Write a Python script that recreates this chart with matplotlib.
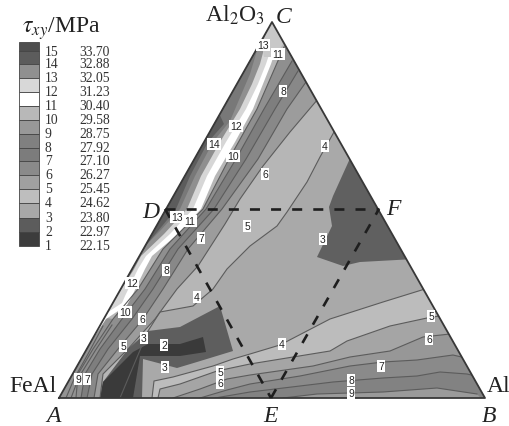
import matplotlib.pyplot as plt
from matplotlib.patches import Polygon

plt.rcParams['font.family'] = ['Liberation Serif', 'DejaVu Serif']
plt.rcParams['mathtext.fontset'] = 'stix'

# triangle corners, read in picture pixels
apex_a = (59, 399)
apex_b = (485, 399)
apex_c = (272, 23)
point_d = (165, 210)
point_e = (271, 399)
point_f = (379, 210)

# legend
level_numbers = ['15', '14', '13', '12', '11', '10', '9', '8', '7', '6', '5', '4', '3', '2', '1']
level_values = ['33.70', '32.88', '32.05', '31.23', '30.40', '29.58', '28.75', '27.92',
                '27.10', '26.27', '25.45', '24.62', '23.80', '22.97', '22.15']
level_tops = [43, 52, 65, 79, 93, 107, 121, 135, 149, 162, 176, 190, 204, 219, 233]
level_bottoms = [52, 65, 79, 93, 107, 121, 135, 149, 162, 176, 190, 204, 219, 233, 247]
level_greys = ['#4e4e4e', '#5c5c5c', '#909090', '#d8d8d8', '#ffffff', '#b8b8b8', '#989898', '#808080',
               '#7c7c7c', '#8a8a8a', '#a0a0a0', '#bebebe', '#a8a8a8', '#5c5c5c', '#3c3c3c']

# contours coming in from the AB side, left to right
bottom_l1 = [(152, 399), (154, 382), (173, 378), (213, 367), (233, 360), (250, 355), (280, 346), (330, 320), (383, 303), (425, 290)]
bottom_l2 = [(158, 399), (160, 390), (180, 385), (217, 372), (250, 365), (330, 352), (347, 342), (390, 327), (427, 319), (445, 316)]
bottom_l3 = [(173, 399), (200, 390), (227, 380), (250, 376), (313, 367), (350, 358), (390, 352), (423, 338), (450, 335)]
bottom_l4 = [(200, 399), (227, 391), (250, 385), (300, 377), (350, 367), (383, 363), (417, 361), (453, 356), (470, 360)]
bottom_l5 = [(215, 399), (250, 393), (300, 387), (333, 383), (383, 379), (417, 377), (440, 373), (467, 375), (480, 378)]
bottom_l6 = [(283, 399), (317, 395), (383, 393), (437, 389), (477, 395)]
bottom_lines = [bottom_l1, bottom_l2, bottom_l3, bottom_l4, bottom_l5, bottom_l6]
bottom_greys = ['#bcbcbc', '#a5a5a5', '#979797', '#8a8a8a', '#828282', '#9a9a9a']

# contours running up towards C, from the middle to the AC side
side_f0 = [(334, 133), (320, 158), (307, 183), (287, 213), (277, 227), (250, 247), (227, 270), (213, 290), (193, 307), (160, 313), (148, 332), (120, 399)]
side_f1 = [(318, 100), (290, 133), (263, 167), (240, 200), (225, 225), (198, 267), (177, 290), (155, 320), (128, 350), (103, 375), (100, 399)]
side_f2 = [(306, 83), (287, 110), (258, 160), (222, 210), (188, 250), (163, 290), (143, 320), (118, 350), (98, 375), (94, 399)]
side_f3 = [(298, 72), (275, 110), (246, 160), (214, 210), (178, 250), (153, 290), (132, 320), (108, 350), (92, 375), (87, 399)]
side_f4 = [(292, 62), (264, 110), (236, 160), (206, 210), (170, 250), (145, 290), (122, 320), (100, 350), (85, 375), (81, 399)]
side_f5 = [(284, 48), (257, 110), (229, 160), (203, 210), (163, 250), (138, 290), (113, 320), (93, 350), (78, 375), (76, 399)]
side_lines = [side_f0, side_f1, side_f2, side_f3, side_f4, side_f5]
side_greys = ['#b6b6b6', '#9c9c9c', '#888888', '#7e7e7e', '#8f8f8f', '#b6b6b6']

# short contours in the corner at A
corner_t1 = [(71, 399), (79, 378), (95, 352), (112, 326)]
corner_t2 = [(66, 399), (74, 380), (88, 355), (103, 327)]
corner_wedge = [(76, 399), (78, 375), (93, 350), (113, 320), (100, 318), (50, 399)]

# white band and the bands between it and the AC edge
white_right = [(276, 50), (271, 65), (263, 85), (253, 110), (235, 143), (215, 177), (201, 210), (178, 235), (152, 257), (145, 270), (132, 297), (127, 306), (106, 320)]
white_left = [(271, 50), (266, 65), (258, 85), (246, 110), (226, 143), (207, 177), (193, 210), (170, 235), (146, 257), (138, 270), (125, 297), (122, 304), (102, 317)]
light_line = [(268, 35), (260, 65), (252, 85), (240, 110), (220, 143), (201, 177), (187, 210), (164, 235), (141, 257), (133, 272), (119, 293)]
mid_line = [(259, 45), (250, 75), (230, 122), (213, 143), (195, 177), (180, 210), (160, 232), (147, 245)]
dark_line = [(218, 112), (224, 125), (208, 143), (190, 177), (176, 210), (158, 232), (147, 245)]
apex_cap = [(264, 58), (275, 58), (283, 45), (272, 18), (262, 45)]

# closed fields
field_f = [(352, 155), (333, 197), (329, 208), (332, 227), (317, 258), (343, 267), (360, 263), (415, 260)]
field_3 = [(100, 399), (103, 383), (128, 350), (148, 332), (180, 328), (220, 307), (233, 352), (197, 363), (177, 369), (143, 360), (142, 399)]
field_2 = [(100, 399), (103, 383), (133, 353), (148, 345), (180, 345), (203, 338), (206, 353), (180, 357), (140, 357), (133, 399)]

# number tags on the contours
tag_texts = ['13', '11', '8', '4', '12', '14', '10', '6', '5', '13', '11', '7', '3', '8', '12', '4',
             '10', '6', '5', '3', '2', '3', '4', '5', '6', '5', '6', '7', '8', '9', '9', '7']
tag_x = [263, 278, 283, 325, 236, 214, 233, 265, 247, 177, 190, 201, 323, 166, 132, 197,
         125, 142, 123, 144, 164, 165, 282, 220, 220, 431, 429, 381, 351, 351, 78, 87]
tag_y = [46, 55, 92, 147, 127, 145, 157, 175, 227, 218, 222, 239, 240, 271, 284, 298,
         313, 320, 347, 339, 346, 368, 345, 373, 384, 317, 340, 367, 381, 394, 380, 380]


def close_left(line):
    return list(line) + [(40, 420), (40, 0), (line[0][0] + 1, 0)]


def close_below(line):
    return list(line) + [(500, 420), (line[0][0], 420)]


fig = plt.figure(figsize=(5.1, 4.27), dpi=100)
ax = fig.add_axes([0, 0, 1, 1])
ax.set_xlim(0, 510)
ax.set_ylim(427, 0)
ax.axis('off')

triangle = Polygon([apex_a, apex_b, apex_c], closed=True, facecolor='#a9a9a9', edgecolor='none')
ax.add_patch(triangle)


def fill_clipped(points, color, z=1):
    patch = Polygon(points, closed=True, facecolor=color, edgecolor='none', zorder=z)
    ax.add_patch(patch)
    patch.set_clip_path(triangle)


def draw_line(points, z=3):
    xs = [p[0] for p in points]
    ys = [p[1] for p in points]
    line, = ax.plot(xs, ys, color='#5c5c5c', lw=0.8, zorder=z)
    line.set_clip_path(triangle)


for line, grey in zip(bottom_lines, bottom_greys):
    fill_clipped(close_below(line), grey)
for line, grey in zip(side_lines, side_greys):
    fill_clipped(close_left(line), grey)
fill_clipped(corner_wedge, '#939393')
fill_clipped(close_left(white_right), '#ffffff')
fill_clipped(close_left(white_left), '#d6d6d6')
fill_clipped(close_left(light_line), '#8f8f8f')
fill_clipped(close_left(mid_line), '#787878')
fill_clipped(close_left(dark_line), '#5c5c5c')
fill_clipped(apex_cap, '#c8c8c8')
fill_clipped(field_f, '#606060', 2)
fill_clipped(field_3, '#5e5e5e', 2)
fill_clipped(field_2, '#3a3a3a', 2)

for line in bottom_lines + side_lines + [corner_t1, corner_t2]:
    draw_line(line)

# triangle outline
edge_x = [apex_a[0], apex_b[0], apex_c[0], apex_a[0]]
edge_y = [apex_a[1], apex_b[1], apex_c[1], apex_a[1]]
ax.plot(edge_x, edge_y, color='#383838', lw=1.3, zorder=5)

# dashed inner triangle
for p, q in [(point_d, point_f), (point_d, point_e), (point_e, point_f)]:
    ax.plot([p[0], q[0]], [p[1], q[1]], color='#1e1e1e', lw=1.9, ls=(0, (3.8, 4.2)), zorder=6)

# contour tags
for text, x, y in zip(tag_texts, tag_x, tag_y):
    ax.text(x, y, text, fontsize=7.5, family='Liberation Sans', ha='center', va='center', color='#222222', zorder=7,
            bbox=dict(facecolor='white', edgecolor='none', pad=0.9))

# legend column
for top, bottom, grey in zip(level_tops, level_bottoms, level_greys):
    ax.bar(29, bottom - top, width=20, bottom=top, color=grey, edgecolor='#444444', linewidth=0.6)
for i, (num, val) in enumerate(zip(level_numbers, level_values)):
    ax.text(45, level_bottoms[i], num, fontsize=9.8, color='#333333', ha='left', va='center')
    ax.text(79, level_bottoms[i], val, fontsize=9.8, color='#333333', ha='left', va='center')

# titles and corner names
ax.text(22, 33, r'$\tau_{xy}$/MPa', fontsize=17, color='#222222', ha='left', va='baseline')
ax.text(205, 22, r'Al$_2$O$_3$', fontsize=17, color='#222222', ha='left', va='baseline')
ax.text(9, 392, 'FeAl', fontsize=17, color='#222222', ha='left', va='baseline')
ax.text(487, 392, 'Al', fontsize=17, color='#222222', ha='left', va='baseline')
corner_names = ['C', 'D', 'F', 'A', 'E', 'B']
corner_x = [276, 142, 386, 46, 263, 482]
corner_y = [23, 218, 215, 422, 422, 422]
for name, x, y in zip(corner_names, corner_x, corner_y):
    ax.text(x, y, name, fontsize=17, style='italic', color='#222222', ha='left', va='baseline')

fig.savefig('out.png', dpi=100)
